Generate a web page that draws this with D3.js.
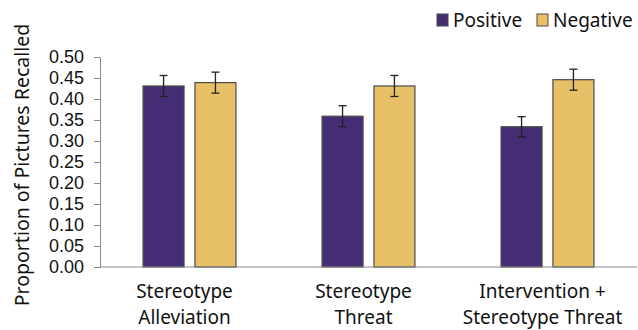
<!DOCTYPE html>
<html lang="en">
<head>
<meta charset="utf-8">
<script src="https://cdn.jsdelivr.net/npm/d3@7"></script>
<style>
  body { margin: 0; background: #fff; }
  text { font-family: "Noto Sans", sans-serif; fill: #111; }
</style>
</head>
<body>
<div id="chart"></div>
<script>
// data
var conditions = [["Stereotype", "Alleviation"], ["Stereotype", "Threat"], ["Intervention +", "Stereotype Threat"]];
var series = ["Positive", "Negative"];
var positive = [0.431, 0.359, 0.334];
var negative = [0.439, 0.431, 0.446];
var posErr = [0.025, 0.025, 0.024];
var negErr = [0.025, 0.025, 0.025];
var yTicks = [0, 0.05, 0.10, 0.15, 0.20, 0.25, 0.30, 0.35, 0.40, 0.45, 0.50];

var colors = {Positive: "#452d76", Negative: "#e8c068"};

var width = 638, height = 330;
var svg = d3.select("#chart").append("svg")
    .attr("width", width)
    .attr("height", height);

var x0 = d3.scaleBand()
    .domain(d3.range(conditions.length))
    .range([100, 637])
    .paddingInner(0).paddingOuter(0);

var x1 = d3.scaleBand()
    .domain(series)
    .range([0, x0.bandwidth()])
    .paddingInner(0.21)
    .paddingOuter(0.83);

var y = d3.scaleLinear().domain([0, 0.5]).range([267, 57]);

// y axis
var yAxis = d3.axisLeft(y)
    .tickValues(yTicks)
    .tickSize(6)
    .tickFormat(d3.format(".2f"));
var gy = svg.append("g").attr("transform", "translate(100,0)").call(yAxis);
gy.select(".domain").attr("stroke", "#8a8a8a");
gy.selectAll(".tick line").attr("stroke", "#8a8a8a");
gy.selectAll(".tick text").attr("x", -16).style("font-size", "18px")
  .style("font-family", "Liberation Sans").attr("fill", "#111");

svg.append("text")
    .attr("transform", "translate(29," + ((57 + 267) / 2 + 3) + ") rotate(-90)")
    .attr("text-anchor", "middle")
    .style("font-size", "19.5px")
    .text("Proportion of Pictures Recalled");

// bars
var rows = conditions.map(function(c, i) {
  return [
    {key: "Positive", i: i, v: positive[i], e: posErr[i]},
    {key: "Negative", i: i, v: negative[i], e: negErr[i]}
  ];
});

var groups = svg.selectAll("g.grp")
    .data(rows)
    .enter().append("g")
    .attr("class", "grp")
    .attr("transform", function(d, i) { return "translate(" + x0(i) + ",0)"; });

groups.selectAll("rect")
    .data(function(d) { return d; })
    .enter().append("rect")
    .attr("x", function(d) { return x1(d.key); })
    .attr("y", function(d) { return y(d.v); })
    .attr("width", x1.bandwidth())
    .attr("height", function(d) { return y(0) - y(d.v); })
    .attr("fill", function(d) { return colors[d.key]; })
    .attr("stroke", "#4a4a4a")
    .attr("stroke-width", 1.2);

// error bars
var eb = groups.selectAll("g.err")
    .data(function(d) { return d; })
    .enter().append("g")
    .attr("class", "err")
    .attr("stroke", "#222")
    .attr("stroke-width", 1.3);
eb.append("line")
    .attr("x1", function(d) { return x1(d.key) + x1.bandwidth() / 2; })
    .attr("x2", function(d) { return x1(d.key) + x1.bandwidth() / 2; })
    .attr("y1", function(d) { return y(d.v + d.e); })
    .attr("y2", function(d) { return y(d.v - d.e); });
[1, -1].forEach(function(s) {
  eb.append("line")
    .attr("x1", function(d) { return x1(d.key) + x1.bandwidth() / 2 - 4; })
    .attr("x2", function(d) { return x1(d.key) + x1.bandwidth() / 2 + 4; })
    .attr("y1", function(d) { return y(d.v + s * d.e); })
    .attr("y2", function(d) { return y(d.v + s * d.e); });
});

// x axis line
svg.append("line")
    .attr("x1", 100).attr("x2", 637)
    .attr("y1", y(0)).attr("y2", y(0))
    .attr("stroke", "#8a8a8a");

// category labels (two lines each)
var labels = svg.selectAll("text.cat")
    .data(conditions)
    .enter().append("text")
    .attr("class", "cat")
    .attr("text-anchor", "middle")
    .style("font-size", "19px")
    .attr("transform", function(d, i) {
      return "translate(" + (x0(i) + x0.bandwidth() / 2 - 5) + ",298)";
    });
labels.selectAll("tspan")
    .data(function(d) { return d; })
    .enter().append("tspan")
    .attr("x", 0)
    .attr("dy", function(d, j) { return j === 0 ? 0 : 25.5; })
    .text(function(d) { return d; });

// legend
var leg = svg.append("g").attr("transform", "translate(437,13)");
var legX = [0, 100];
series.forEach(function(s, i) {
  var g = leg.append("g").attr("transform", "translate(" + legX[i] + ",0)");
  g.append("rect")
    .attr("width", 11).attr("height", 12)
    .attr("y", 1)
    .attr("fill", colors[s])
    .attr("stroke", "#4a4a4a");
  g.append("text")
    .attr("x", 16).attr("y", 14)
    .style("font-size", "19px")
    .text(s);
});
</script>
</body>
</html>
